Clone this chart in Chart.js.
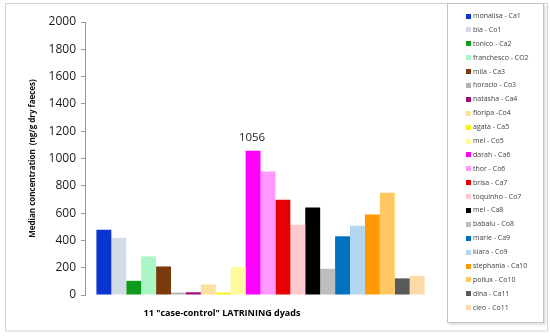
<!DOCTYPE html>
<html>
<head>
<meta charset="utf-8">
<script src="https://cdn.jsdelivr.net/npm/chart.js@4"></script>
<style>
  body { margin: 0; background: #fff; }
  #wrap { position: relative; width: 550px; height: 336px; }
  #legend {
    position: absolute; left: 447px; top: 3px; width: 97px; height: 320px;
    border: 1px solid #c4c4c4; box-shadow: 2px 2px 2px rgba(0,0,0,0.12);
    background: #fff; box-sizing: border-box; padding-top: 5px;
    font: 7px "Open Sans", sans-serif; color: #404040;
  }
  .item { height: 13.9px; line-height: 13.9px; padding-left: 18px; white-space: nowrap; }
  .sw { display: inline-block; width: 5px; height: 5px; margin-right: 2px; vertical-align: -0.5px; }
</style>
</head>
<body>
<div id="wrap">
  <canvas id="chart" width="550" height="336"></canvas>
  <div id="legend"></div>
</div>
<script>
const names = ['monalisa - Ca1', 'bia - Co1', 'tonico - Ca2', 'franchesco - CO2', 'mila - Ca3', 'horacio - Co3',
  'natasha - Ca4', 'floripa -Co4', 'agata - Ca5', 'mel - Co5', 'darah - Ca6', 'thor - Co6', 'brisa - Ca7',
  'toquinho - Co7', 'mel - Ca8', 'babalu - Co8', 'marie - Ca9', 'kiara - Co9', 'stephania - Ca10',
  'pollux - Co10', 'dina - Ca11', 'cleo - Co11'];
const values = [478, 418, 104, 283, 209, 18, 20, 77, 18, 205, 1056, 905, 698, 514, 641, 192, 430, 508, 590, 750, 122, 140];
const colors = ['#0a35d0', '#d3dbe8', '#0e9a1a', '#aaf6c6', '#7a3a0c', '#b3b3b3', '#99107d', '#fbe0a0', '#f6f214',
  '#fdfb9c', '#ff00ff', '#ff99ff', '#e60000', '#ffc8cf', '#000000', '#bdbdbd', '#0072bf', '#b2d6f0', '#ff9a05',
  '#ffc862', '#595959', '#fcd9a6'];
const category = ['11 "case-control" LATRINING dyads'];
const yTicks = [0, 200, 400, 600, 800, 1000, 1200, 1400, 1600, 1800, 2000];
const labelled = 10; // darah - Ca6

const datasets = names.map((n, i) => ({
  label: n,
  data: [values[i]],
  backgroundColor: colors[i],
  borderWidth: 0
}));

// frame, x title and the value label
const extras = {
  id: 'extras',
  beforeDraw(chart) {
    const c = chart.ctx;
    c.save();
    c.strokeStyle = '#d4d4d4';
    c.lineWidth = 1;
    c.strokeRect(5.5, 3.5, 542, 327.5);
    c.restore();
  },
  afterDraw(chart) {
    const c = chart.ctx;
    c.save();
    c.fillStyle = '#000';
    c.textAlign = 'center';
    c.textBaseline = 'middle';
    c.font = 'bold 9px "Open Sans", sans-serif';
    c.fillText(category[0], 222, 313);
    const bar = chart.getDatasetMeta(labelled).data[0];
    c.font = '11.5px "Open Sans", sans-serif';
    c.fillStyle = '#222';
    c.fillText(String(values[labelled]), bar.x - 1, bar.y - 13);
    c.restore();
  }
};

new Chart(document.getElementById('chart'), {
  type: 'bar',
  data: { labels: category, datasets: datasets },
  options: {
    responsive: false,
    animation: false,
    layout: { padding: { left: 0, top: 22, right: 114, bottom: 41 } },
    datasets: { bar: { categoryPercentage: 0.935, barPercentage: 1 } },
    plugins: { legend: { display: false }, tooltip: { enabled: false } },
    scales: {
      x: { display: false },
      y: {
        min: 0,
        max: 2000,
        afterBuildTicks: s => { s.ticks = yTicks.map(v => ({ value: v })); },
        afterFit: s => { s.width = 85; },
        ticks: {
          padding: 5,
          color: '#1a1a1a',
          font: { family: 'Open Sans', size: 12 },
          callback: v => String(v)
        },
        grid: { drawOnChartArea: false, tickLength: 4, color: '#9a9a9a' },
        border: { color: '#9a9a9a' },
        title: {
          display: true,
          text: 'Median concentration  (ng/g dry faeces)',
          color: '#111',
          font: { family: 'Open Sans', size: 8, weight: 'bold' },
          padding: { top: 28, bottom: 0 }
        }
      }
    }
  },
  plugins: [extras]
});

const legend = document.getElementById('legend');
names.forEach((n, i) => {
  const row = document.createElement('div');
  row.className = 'item';
  row.innerHTML = '<span class="sw" style="background:' + colors[i] + '"></span>' + n;
  legend.appendChild(row);
});
</script>
</body>
</html>
